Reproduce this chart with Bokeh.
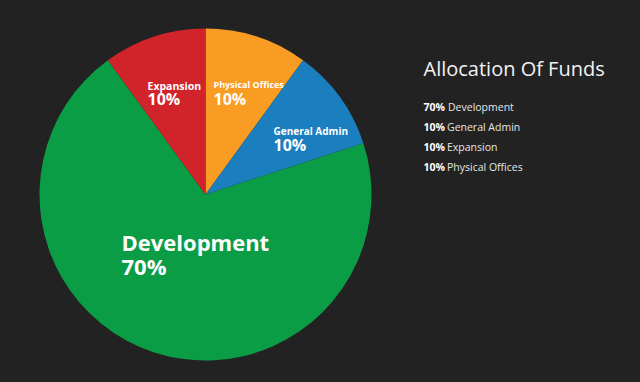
import numpy as np
from bokeh.plotting import figure
from bokeh.models import Range1d, ColumnDataSource
from bokeh.core.properties import value
from bokeh.embed import file_html
from bokeh.resources import INLINE

# ---- data ----
categories = ["Development", "General Admin", "Expansion", "Physical Offices"]
shares = [70, 10, 10, 10]
colors = {"Development": "#0b9c46", "General Admin": "#1b7ebf",
          "Expansion": "#d1232a", "Physical Offices": "#f89c24"}
clockwise_order = ["Physical Offices", "General Admin", "Development", "Expansion"]
title_text = "Allocation Of Funds"

# ---- layout ----
W, H = 640, 382
BG = "#222222"
FONT = "Open Sans"


def fx(px):
    return px


def fy(py):
    return H - py


cx, cy, R = fx(205), fy(194), 166

p = figure(width=W, height=H, output_backend="svg", toolbar_location=None,
           x_range=Range1d(0, W), y_range=Range1d(0, H), min_border=0,
           background_fill_color=BG, border_fill_color=BG, outline_line_color=None)
p.axis.visible = False
p.grid.visible = False

share_of = dict(zip(categories, shares))
start = np.pi / 2
starts, ends, cols = [], [], []
for c in clockwise_order:
    sweep = share_of[c] / sum(shares) * 2 * np.pi
    starts.append(start - sweep)
    ends.append(start)
    cols.append(colors[c])
    start -= sweep
src = ColumnDataSource(dict(s=starts, e=ends, c=cols))
p.wedge(x=cx, y=cy, radius=R, start_angle="s", end_angle="e", direction="anticlock",
        fill_color="c", line_color=None, source=src)

# ---- slice labels (left x, name middle y, pct middle y, name size, pct size) ----
label_layout = {
    "Expansion": (147, 85, 98, 10.5, 16),
    "Physical Offices": (213, 84, 98, 9, 16),
    "General Admin": (273, 130, 144.5, 10, 16),
    "Development": (121, 241, 265, 22, 22),
}
for c in categories:
    x, y1, y2, s1, s2 = label_layout[c]
    p.text(x=[fx(x)], y=[fy(y1)], text=[c], text_color="white",
           text_font=value(FONT), text_font_size=f"{s1}px", text_font_style="bold",
           text_baseline="middle", text_align="left")
    p.text(x=[fx(x)], y=[fy(y2)], text=[f"{share_of[c]}%"], text_color="white",
           text_font=value(FONT), text_font_size=f"{s2}px", text_font_style="bold",
           text_baseline="middle", text_align="left")

# ---- legend block ----
p.text(x=[fx(423)], y=[fy(67.5)], text=[title_text], text_color="#f2f2f2",
       text_font=value(FONT), text_font_size="20px",
       text_baseline="middle", text_align="left")
legend_rows = [106, 126, 146.3, 166]
for c, ym in zip(categories, legend_rows):
    pct = f"{share_of[c]}%"
    p.text(x=[fx(423)], y=[fy(ym)], text=[pct], text_color="white",
           text_font=value(FONT), text_font_size="10.5px", text_font_style="bold",
           text_baseline="middle", text_align="left")
    p.text(x=[fx(423 + (24.5 if pct == "70%" else 23.5))], y=[fy(ym)], text=[c],
           text_color="#e6e6e6", text_font=value(FONT), text_font_size="10.5px",
           text_baseline="middle", text_align="left")

html = file_html(p, INLINE)
html = html.replace("<head>", "<head><style>html,body{background:#222222;}</style>", 1)
open("out.html", "w").write(html)
